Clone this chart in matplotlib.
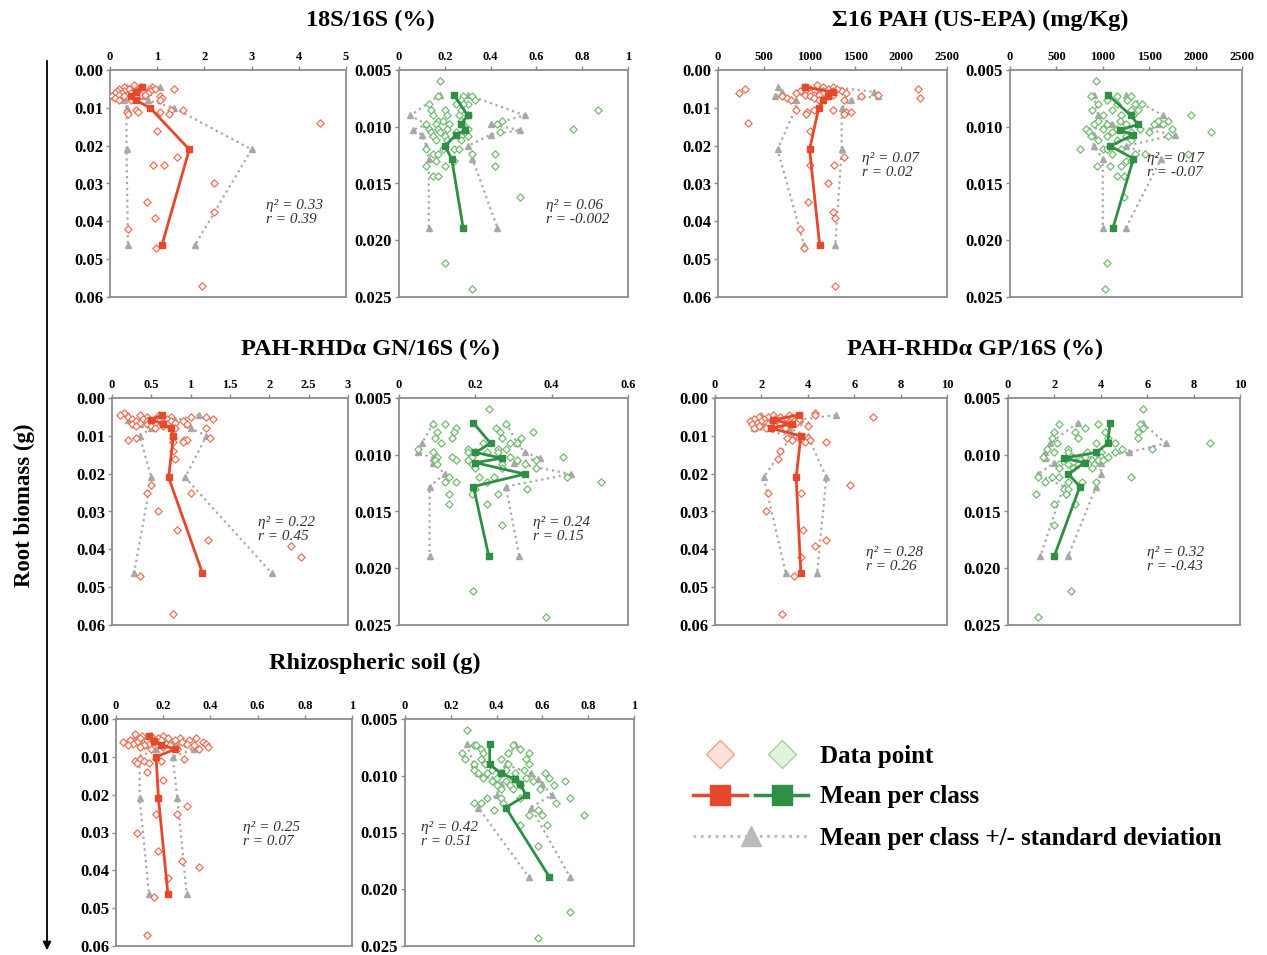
import numpy as np
import matplotlib
matplotlib.use('Agg')
import matplotlib.pyplot as plt
from matplotlib.lines import Line2D
from matplotlib.legend_handler import HandlerTuple
from matplotlib.patches import FancyArrowPatch
from matplotlib.ticker import FuncFormatter

plt.rcParams.update({
    'font.family': ['Liberation Serif', 'DejaVu Serif'],
    'font.weight': 'bold',
    'font.size': 10,
})

RED, RED_PT = '#E5482B', '#EE7056'
GREEN, GREEN_PT = '#2F8F45', '#72BC72'
GREY = '#A8A8A8'

# ---- root biomass classes (red = full set, green = subset) ----
CLASS_Y_RED = [0.0045, 0.0058, 0.0068, 0.0080, 0.0100, 0.0210, 0.0463]
CLASS_Y_GREEN = [0.0072, 0.0090, 0.0098, 0.0103, 0.0107, 0.0117, 0.0128, 0.0189]

# root biomass of each sample (red panels)
RED_Y = [0.004,
         0.0045, 0.0045, 0.0045,
         0.005, 0.005, 0.005, 0.005, 0.005,
         0.0055, 0.0055, 0.0055, 0.0055, 0.0055,
         0.006, 0.006, 0.006, 0.006, 0.006,
         0.0065, 0.0065, 0.0065, 0.0065, 0.0065,
         0.007, 0.007, 0.007, 0.007,
         0.0075, 0.0075, 0.0075,
         0.008, 0.008, 0.008,
         0.0105, 0.0105, 0.0105,
         0.011, 0.011, 0.011,
         0.0115, 0.0115,
         0.014, 0.016, 0.023, 0.025, 0.025, 0.030, 0.035, 0.0375, 0.039, 0.042, 0.047, 0.057]

# root biomass of each sample (green panels)
GREEN_Y = [0.0060,
           0.0073, 0.0073, 0.0073,
           0.0076, 0.0076,
           0.0080, 0.0080, 0.0080, 0.0080,
           0.0085, 0.0085, 0.0085, 0.0085,
           0.0090, 0.0090, 0.0090, 0.0090,
           0.0095, 0.0095, 0.0095, 0.0095,
           0.0098, 0.0098, 0.0098, 0.0098, 0.0098,
           0.0102, 0.0102, 0.0102, 0.0102, 0.0102,
           0.0105, 0.0105, 0.0105, 0.0105, 0.0105,
           0.0108, 0.0108, 0.0108, 0.0108,
           0.0112, 0.0112, 0.0112,
           0.0120, 0.0120, 0.0120, 0.0120,
           0.0124, 0.0124, 0.0124, 0.0124,
           0.0130, 0.0130,
           0.0135, 0.0135, 0.0135,
           0.0143, 0.0143,
           0.0162, 0.0220, 0.0243]

# ---- 18S/16S (%) ----
S18_RED_X = [0.5, 0.65, 0.3, 0.9, 0.2, 0.4, 0.85, 0.95, 1.35, 0.15, 0.3, 0.55, 0.7, 0.85,
             0.1, 0.25, 0.45, 0.6, 0.8, 0.2, 0.35, 0.5, 0.65, 0.75, 0.05, 0.3, 0.55, 1.05,
             0.1, 0.4, 1.1, 0.2, 0.45, 1.05, 0.55, 1.3, 1.55, 0.35, 0.6, 1.05, 0.38, 1.25,
             4.45, 1.0, 1.42, 0.92, 1.15, 2.2, 0.78, 2.2, 0.95, 0.38, 0.97, 1.95]
S18_RED_MEAN = [0.68, 0.55, 0.45, 0.55, 0.85, 1.68, 1.1]
S18_RED_LO = [0.35, 0.3, 0.2, 0.3, 0.35, 0.35, 0.38]
S18_RED_HI = [1.05, 0.8, 0.7, 0.8, 1.35, 3.0, 1.8]

S18_GREEN_X = [0.18, 0.17, 0.28, 0.32, 0.27, 0.33, 0.13, 0.25, 0.3, 0.28, 0.14, 0.2, 0.27, 0.87,
               0.15, 0.21, 0.26, 0.3, 0.17, 0.19, 0.27, 0.45, 0.12, 0.16, 0.22, 0.28, 0.43,
               0.13, 0.17, 0.21, 0.3, 0.76, 0.14, 0.18, 0.25, 0.29, 0.44, 0.15, 0.2, 0.27, 0.3,
               0.16, 0.21, 0.27, 0.12, 0.19, 0.24, 0.26, 0.15, 0.17, 0.32, 0.42, 0.16, 0.24,
               0.12, 0.2, 0.42, 0.15, 0.17, 0.53, 0.2, 0.32]
S18_GREEN_MEAN = [0.24, 0.30, 0.27, 0.29, 0.25, 0.20, 0.23, 0.28]
S18_GREEN_LO = [0.18, 0.05, 0.12, 0.06, 0.10, 0.12, 0.13, 0.13]
S18_GREEN_HI = [0.30, 0.55, 0.40, 0.53, 0.40, 0.30, 0.32, 0.43]

# ---- Σ16 PAH (mg/Kg) ----
PAH_RED_X = [1080, 950, 1150, 1250, 300, 1000, 1200, 1300, 2180, 900, 1050, 1150, 1250, 1350,
             230, 850, 1000, 1150, 1400, 950, 1050, 1100, 1250, 1750, 700, 1000, 1200, 1560,
             750, 1050, 2200, 800, 1100, 1380, 850, 1050, 1250, 970, 1400, 1450, 960, 1380,
             330, 1000, 1380, 1000, 1270, 1200, 980, 1250, 1280, 890, 940, 1280]
PAH_RED_MEAN = [950, 1250, 1200, 1150, 1100, 1000, 1110]
PAH_RED_LO = [650, 700, 620, 850, 850, 650, 940]
PAH_RED_HI = [1270, 1700, 1750, 1450, 1350, 1350, 1280]

PAH_GREEN_X = [930, 870, 1150, 1300, 1050, 1260, 950, 1150, 1350, 1420, 880, 1100, 1300, 1380,
               1000, 1200, 1330, 1950, 950, 1180, 1600, 1700, 900, 1050, 1250, 1550, 1650,
               820, 1000, 1150, 1400, 1750, 850, 1100, 1300, 1500, 2170, 870, 1050, 1250, 1700,
               950, 1150, 1300, 750, 1000, 1200, 1050, 1100, 1350, 1450, 1920, 1250, 1300,
               940, 1080, 1200, 1230, 1150, 1230, 1050, 1020]
PAH_GREEN_MEAN = [1060, 1300, 1380, 1180, 1330, 1080, 1330, 1110]
PAH_GREEN_LO = [900, 950, 1100, 850, 900, 900, 1000, 1000]
PAH_GREEN_HI = [1250, 1650, 1600, 1500, 1780, 1250, 1630, 1250]

# ---- PAH-RHDα GN/16S (%) ----
GN_RED_X = [0.15, 0.1, 0.35, 0.6, 0.2, 0.45, 0.75, 1.0, 1.2, 0.25, 0.4, 0.55, 0.7, 1.28,
            0.3, 0.45, 0.6, 0.75, 0.9, 0.35, 0.5, 0.65, 0.8, 0.55, 0.25, 0.45, 0.7, 0.95,
            0.3, 0.5, 0.65, 0.55, 0.8, 1.2, 0.3, 0.78, 1.25, 0.2, 0.92, 0.95, 0.77, 0.9,
            0.77, 0.8, 0.5, 0.45, 1.0, 0.58, 0.83, 1.22, 2.27, 2.4, 0.35, 0.78]
GN_RED_MEAN = [0.63, 0.5, 0.65, 0.75, 0.78, 0.72, 1.15]
GN_RED_LO = [0.2, 0.2, 0.35, 0.5, 0.35, 0.5, 0.28]
GN_RED_HI = [1.1, 0.8, 0.95, 1.0, 1.2, 0.93, 2.03]

GN_GREEN_X = [0.235, 0.12, 0.28, 0.09, 0.15, 0.255, 0.1, 0.145, 0.265, 0.35, 0.095, 0.14, 0.27, 0.32,
              0.11, 0.22, 0.29, 0.31, 0.05, 0.18, 0.26, 0.28, 0.09, 0.18, 0.2, 0.23, 0.26,
              0.1, 0.14, 0.19, 0.29, 0.43, 0.095, 0.15, 0.18, 0.31, 0.36, 0.1, 0.19, 0.27, 0.33,
              0.2, 0.27, 0.36, 0.13, 0.21, 0.25, 0.44, 0.12, 0.15, 0.23, 0.53, 0.2, 0.335,
              0.13, 0.19, 0.26, 0.13, 0.23, 0.27, 0.195, 0.385]
GN_GREEN_MEAN = [0.195, 0.24, 0.2, 0.27, 0.2, 0.33, 0.195, 0.235]
GN_GREEN_LO = [0.09, 0.06, 0.05, 0.09, 0.09, 0.12, 0.08, 0.08]
GN_GREEN_HI = [0.28, 0.31, 0.33, 0.37, 0.30, 0.45, 0.28, 0.315]

# ---- PAH-RHDα GP/16S (%) ----
GP_RED_X = [4.3, 2.5, 3.2, 4.3, 1.9, 2.3, 2.8, 3.3, 6.8, 1.7, 2.1, 2.6, 3.0, 3.6,
            1.5, 2.0, 2.4, 2.9, 3.4, 1.8, 2.2, 2.7, 3.1, 3.5, 1.6, 2.3, 2.8, 3.3,
            1.9, 2.6, 4.0, 1.7, 2.2, 3.0, 3.1, 3.6, 4.0, 3.3, 3.8, 4.1, 4.8, 3.9,
            2.8, 2.7, 5.8, 2.3, 3.7, 2.2, 3.8, 4.8, 4.3, 3.7, 3.4, 2.9]
GP_RED_MEAN = [3.6, 2.5, 3.3, 2.4, 3.7, 3.5, 3.7]
GP_RED_LO = [2.0, 1.8, 2.6, 1.7, 3.3, 2.1, 3.05]
GP_RED_HI = [5.2, 3.6, 4.0, 3.2, 4.0, 4.8, 4.4]

GP_GREEN_X = [5.8, 3.9, 2.2, 5.7, 3.3, 5.8, 2.0, 4.2, 5.6, 2.9, 1.9, 3.0, 4.3, 5.6,
              2.1, 3.8, 4.6, 8.7, 1.7, 2.6, 4.9, 6.2, 2.0, 2.6, 3.4, 4.0, 4.6,
              1.5, 2.8, 3.3, 4.0, 4.3, 2.5, 3.1, 3.6, 3.9, 4.1, 2.6, 3.0, 3.7, 2.2,
              2.2, 3.6, 2.8, 1.3, 1.9, 2.2, 5.3, 1.6, 2.6, 3.2, 3.8, 2.4, 2.6,
              1.2, 2.5, 2.5, 2.0, 2.9, 2.0, 2.7, 1.3]
GP_GREEN_MEAN = [4.4, 4.3, 3.8, 2.4, 3.3, 2.6, 3.1, 2.0]
GP_GREEN_LO = [3.0, 1.8, 1.6, 1.6, 2.0, 1.3, 2.4, 1.4]
GP_GREEN_HI = [5.8, 6.8, 5.2, 3.2, 4.0, 4.0, 3.8, 2.6]

# ---- Rhizospheric soil (g) ----
SOIL_RED_X = [0.08, 0.11, 0.15, 0.2, 0.1, 0.18, 0.22, 0.27, 0.34, 0.06, 0.13, 0.19, 0.25, 0.31,
              0.03, 0.09, 0.16, 0.28, 0.37, 0.07, 0.14, 0.21, 0.3, 0.38, 0.05, 0.12, 0.23, 0.33,
              0.1, 0.2, 0.39, 0.15, 0.26, 0.35, 0.1, 0.17, 0.29, 0.08, 0.12, 0.19, 0.09, 0.14,
              0.13, 0.2, 0.3, 0.17, 0.26, 0.09, 0.18, 0.28, 0.35, 0.22, 0.16, 0.13]
SOIL_RED_MEAN = [0.14, 0.16, 0.19, 0.25, 0.17, 0.18, 0.22]
SOIL_RED_LO = [0.08, 0.1, 0.12, 0.17, 0.1, 0.1, 0.14]
SOIL_RED_HI = [0.2, 0.24, 0.26, 0.33, 0.24, 0.26, 0.3]

SOIL_GREEN_X = [0.27, 0.3, 0.31, 0.47, 0.33, 0.5, 0.25, 0.34, 0.45, 0.54, 0.26, 0.33, 0.42, 0.53,
                0.35, 0.45, 0.54, 0.3, 0.3, 0.38, 0.44, 0.52, 0.32, 0.36, 0.42, 0.48, 0.61,
                0.34, 0.4, 0.47, 0.53, 0.63, 0.38, 0.44, 0.49, 0.56, 0.7, 0.4, 0.46, 0.5, 0.65,
                0.42, 0.47, 0.59, 0.36, 0.42, 0.5, 0.72, 0.3, 0.33, 0.43, 0.66, 0.39, 0.58,
                0.54, 0.6, 0.78, 0.62, 0.5, 0.58, 0.72, 0.58]
SOIL_GREEN_MEAN = [0.37, 0.37, 0.42, 0.48, 0.50, 0.53, 0.44, 0.63]
SOIL_GREEN_LO = [0.27, 0.30, 0.32, 0.38, 0.42, 0.40, 0.32, 0.54]
SOIL_GREEN_HI = [0.48, 0.44, 0.55, 0.58, 0.60, 0.64, 0.55, 0.72]

STATS = {
    's18_red': ('0.33', '0.39'), 's18_green': ('0.06', '-0.002'),
    'pah_red': ('0.07', '0.02'), 'pah_green': ('0.17', '-0.07'),
    'gn_red': ('0.22', '0.45'), 'gn_green': ('0.24', '0.15'),
    'gp_red': ('0.28', '0.26'), 'gp_green': ('0.32', '-0.43'),
    'soil_red': ('0.25', '0.07'), 'soil_green': ('0.42', '0.51'),
}

W, H = 1267, 955
fig = plt.figure(figsize=(W / 100, H / 100), dpi=100)


def px_axes(x0, x1, y0, y1):
    return fig.add_axes([x0 / W, 1 - y1 / H, (x1 - x0) / W, (y1 - y0) / H])


def panel(ax, xs, ys, cy, mean, lo, hi, col, pcol, xmax, xstep, stat, tpos, green):
    ax.plot(lo, cy, ls=':', color=GREY, lw=1.6, marker='^', ms=4.5, mec=GREY, mfc=GREY, zorder=2)
    ax.plot(hi, cy, ls=':', color=GREY, lw=1.6, marker='^', ms=4.5, mec=GREY, mfc=GREY, zorder=2)
    ax.scatter(xs, ys, marker='D', s=14, facecolors='white', edgecolors=pcol, linewidths=0.9, zorder=3)
    ax.plot(mean, cy, color=col, lw=2, marker='s', ms=5, zorder=4)
    ax.set_xlim(0, xmax)
    ax.set_xticks(np.arange(0, xmax + xstep / 2, xstep))
    ax.xaxis.set_major_formatter(FuncFormatter(lambda v, p: f'{v:g}'))
    ax.xaxis.tick_top()
    if green:
        ax.set_ylim(0.025, 0.005)
        ax.set_yticks([0.005, 0.010, 0.015, 0.020, 0.025])
        ax.yaxis.set_major_formatter(FuncFormatter(lambda v, p: f'{v:.3f}'))
    else:
        ax.set_ylim(0.06, 0.0)
        ax.set_yticks([0, 0.01, 0.02, 0.03, 0.04, 0.05, 0.06])
        ax.yaxis.set_major_formatter(FuncFormatter(lambda v, p: f'{v:.2f}'))
    for s in ax.spines.values():
        s.set_color('#8C8C8C')
        s.set_linewidth(1.3)
    ax.tick_params(axis='both', length=3, width=1, color='#8C8C8C', pad=2)
    ax.tick_params(axis='x', top=True, bottom=False, labelsize=9)
    ax.tick_params(axis='y', labelsize=12)
    ax.text(tpos[0], tpos[1], f'η² = {stat[0]}\nr = {stat[1]}', transform=ax.transAxes,
            va='top', ha='left', fontstyle='italic', fontweight='normal', fontsize=11,
            color='#333333', linespacing=1.1)


specs = [
    ((110, 346, 70, 297), S18_RED_X, RED_Y, S18_RED_MEAN, S18_RED_LO, S18_RED_HI, 5, 1, 's18_red', (0.66, 0.43), False),
    ((399, 628, 70, 297), S18_GREEN_X, GREEN_Y, S18_GREEN_MEAN, S18_GREEN_LO, S18_GREEN_HI, 1, 0.2, 's18_green', (0.64, 0.43), True),
    ((718, 947, 70, 297), PAH_RED_X, RED_Y, PAH_RED_MEAN, PAH_RED_LO, PAH_RED_HI, 2500, 500, 'pah_red', (0.63, 0.64), False),
    ((1010, 1242, 70, 297), PAH_GREEN_X, GREEN_Y, PAH_GREEN_MEAN, PAH_GREEN_LO, PAH_GREEN_HI, 2500, 500, 'pah_green', (0.59, 0.64), True),
    ((112, 348, 398, 625), GN_RED_X, RED_Y, GN_RED_MEAN, GN_RED_LO, GN_RED_HI, 3, 0.5, 'gn_red', (0.62, 0.48), False),
    ((399, 628, 398, 625), GN_GREEN_X, GREEN_Y, GN_GREEN_MEAN, GN_GREEN_LO, GN_GREEN_HI, 0.6, 0.2, 'gn_green', (0.585, 0.48), True),
    ((715, 947, 398, 625), GP_RED_X, RED_Y, GP_RED_MEAN, GP_RED_LO, GP_RED_HI, 10, 2, 'gp_red', (0.65, 0.35), False),
    ((1008, 1240, 398, 625), GP_GREEN_X, GREEN_Y, GP_GREEN_MEAN, GP_GREEN_LO, GP_GREEN_HI, 10, 2, 'gp_green', (0.6, 0.35), True),
    ((116, 352, 719, 946), SOIL_RED_X, RED_Y, SOIL_RED_MEAN, SOIL_RED_LO, SOIL_RED_HI, 1, 0.2, 'soil_red', (0.54, 0.55), False),
    ((405, 634, 719, 946), SOIL_GREEN_X, GREEN_Y, SOIL_GREEN_MEAN, SOIL_GREEN_LO, SOIL_GREEN_HI, 1, 0.2, 'soil_green', (0.07, 0.55), True),
]

for box, xs, ys, mean, lo, hi, xmax, xstep, key, tpos, green in specs:
    ax = px_axes(*box)
    cy = CLASS_Y_GREEN if green else CLASS_Y_RED
    col, pcol = (GREEN, GREEN_PT) if green else (RED, RED_PT)
    panel(ax, xs, ys, cy, mean, lo, hi, col, pcol, xmax, xstep, STATS[key], tpos, green)

# panel titles
title_kw = dict(ha='center', va='center', fontsize=17.5, fontweight='bold')
fig.text(370 / W, 1 - 20 / H, '18S/16S (%)', **title_kw)
fig.text(980 / W, 1 - 20 / H, 'Σ16 PAH (US-EPA) (mg/Kg)', **title_kw)
fig.text(370 / W, 1 - 349 / H, 'PAH-RHDα GN/16S (%)', **title_kw)
fig.text(975 / W, 1 - 349 / H, 'PAH-RHDα GP/16S (%)', **title_kw)
fig.text(375 / W, 1 - 663 / H, 'Rhizospheric soil (g)', **title_kw)

# y label and arrow
fig.text(24 / W, 1 - 505 / H, 'Root biomass (g)', rotation=90, ha='center', va='center',
         fontsize=16.5, fontweight='bold')
fig.add_artist(FancyArrowPatch((47 / W, 1 - 58 / H), (47 / W, 1 - 953 / H),
                               transform=fig.transFigure, arrowstyle='-|>', mutation_scale=12,
                               color='black', lw=1.3))

# legend
h_pts = (Line2D([], [], ls='', marker='D', ms=14, mfc='#FBE3D9', mec='#F2A488', mew=1),
         Line2D([], [], ls='', marker='D', ms=14, mfc='#E3F1DF', mec='#A8D2A0', mew=1))
h_mean = (Line2D([], [], color=RED, lw=2.5, marker='s', ms=14),
          Line2D([], [], color=GREEN, lw=2.5, marker='s', ms=14))
h_sd = Line2D([], [], color='#BBBBBB', lw=2, ls=':', marker='^', ms=14, mfc='#BBBBBB', mec='#BBBBBB')
fig.legend([h_pts, h_mean, h_sd],
           ['Data point', 'Mean per class', 'Mean per class +/- standard deviation'],
           handler_map={tuple: HandlerTuple(ndivide=None, pad=0.3)},
           loc='upper left', bbox_to_anchor=(671 / W, 1 - 722 / H), frameon=False,
           prop={'size': 18, 'weight': 'bold', 'family': 'Liberation Serif'},
           handlelength=4.6, handletextpad=0.45, labelspacing=0.72)

fig.savefig('out.png', dpi=100)
